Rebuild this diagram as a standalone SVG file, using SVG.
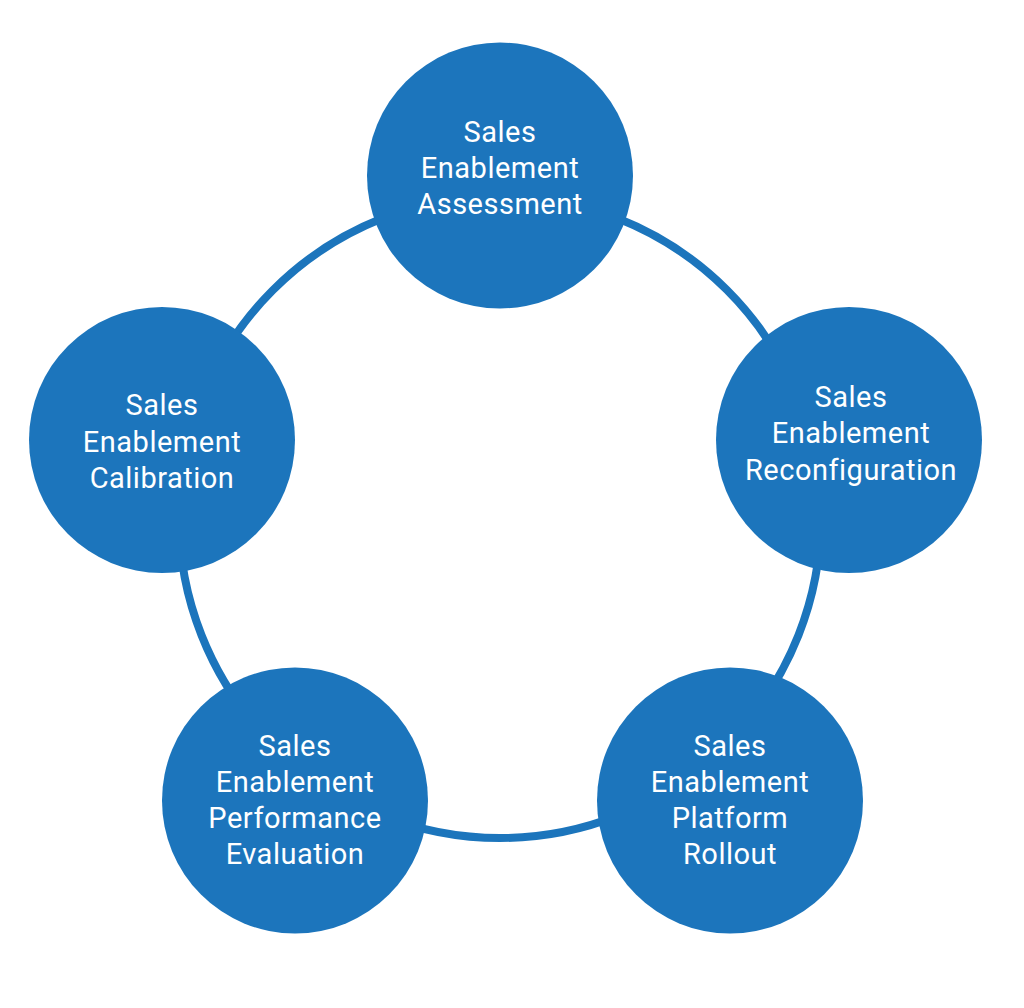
<svg xmlns="http://www.w3.org/2000/svg" width="1024" height="1008" viewBox="0 0 1024 1008">
<style>
.node{fill:#1c75bc}
.lbl{font-family:Roboto,"Liberation Sans",sans-serif;font-size:29px;letter-spacing:0.5px;fill:#ffffff;text-anchor:middle}
.ring{fill:none;stroke:#1c75bc;stroke-width:8}
</style>
<rect width="1024" height="1008" fill="#ffffff"/>
<g id="connectors">
<circle class="ring" cx="500" cy="517" r="321"/>
</g>
<g id="node-assessment">
<circle class="node" cx="500" cy="175.5" r="133"/>
<text class="lbl"><tspan x="500" y="142">Sales</tspan><tspan x="500" y="178">Enablement</tspan><tspan x="500" y="214">Assessment</tspan></text>
</g>
<g id="node-reconfiguration">
<circle class="node" cx="849" cy="440" r="133"/>
<text class="lbl"><tspan x="851" y="407">Sales</tspan><tspan x="851" y="443">Enablement</tspan><tspan x="851" y="480">Reconfiguration</tspan></text>
</g>
<g id="node-rollout">
<circle class="node" cx="730" cy="800.5" r="133"/>
<text class="lbl"><tspan x="730" y="756">Sales</tspan><tspan x="730" y="792">Enablement</tspan><tspan x="730" y="828">Platform</tspan><tspan x="730" y="864">Rollout</tspan></text>
</g>
<g id="node-evaluation">
<circle class="node" cx="295" cy="800.5" r="133"/>
<text class="lbl"><tspan x="295" y="756">Sales</tspan><tspan x="295" y="792">Enablement</tspan><tspan x="295" y="828">Performance</tspan><tspan x="295" y="864">Evaluation</tspan></text>
</g>
<g id="node-calibration">
<circle class="node" cx="162" cy="440" r="133"/>
<text class="lbl"><tspan x="162" y="415">Sales</tspan><tspan x="162" y="452">Enablement</tspan><tspan x="162" y="488">Calibration</tspan></text>
</g>
</svg>
